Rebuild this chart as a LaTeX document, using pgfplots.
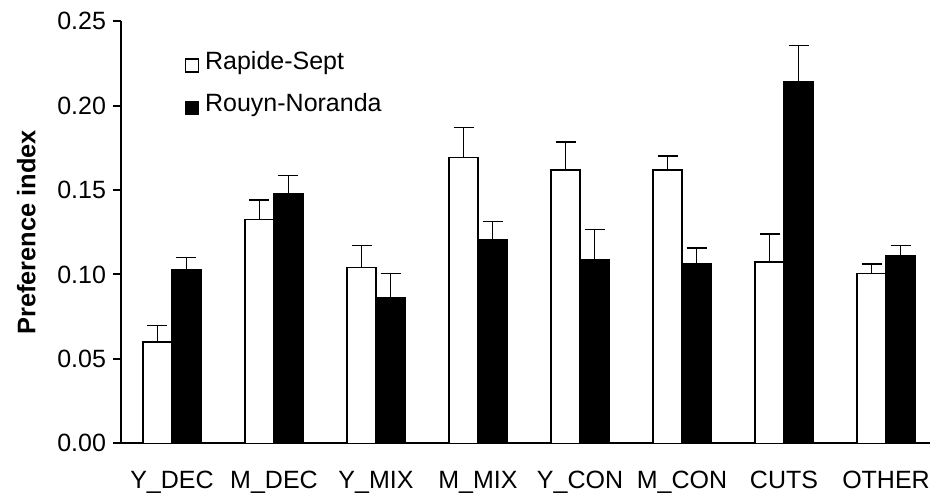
\documentclass[border=0pt]{standalone}
\usepackage{fontspec}
\setmainfont{Liberation Sans}
\usepackage{pgfplots}
\pgfplotsset{compat=1.18}
\begin{document}
\begin{tikzpicture}[font=\fontsize{12.5}{15}\selectfont]
\path[use as bounding box] (-60.5pt,-26.35pt) rectangle (404.5pt,221.65pt);
\clip (-60.5pt,-26.35pt) rectangle (404.5pt,221.65pt);
\begin{axis}[
  at={(0,0)}, anchor=south west,
  scale only axis, width=408pt, height=211pt,
  xmin=0, xmax=8, ymin=0, ymax=0.25,
  ybar=0pt, bar width=14.5pt,
  axis lines*=left,
  axis line style={line width=1pt, black},
  tick align=outside,
  major tick length=4pt, minor tick length=4pt,
  every tick/.style={black, line width=1pt},
  tick label style={font=\fontsize{12.5}{15}\selectfont},
  ytick={0,0.05,0.1,0.15,0.2,0.25},
  yticklabel style={/pgf/number format/.cd, fixed, fixed zerofill, precision=2, assume math mode=true},
  xtick={0.5,1.5,...,7.5},
  xticklabels={Y\_DEC, M\_DEC, Y\_MIX, M\_MIX, Y\_CON, M\_CON, CUTS, OTHER},
  xticklabel style={yshift=-6.5pt},
  xtick style={draw=none},
  minor xtick={0,1,...,8},
  ylabel={\textbf{Preference index}},
  ylabel style={at={(axis description cs:-0.116,0.5)}, anchor=center, font=\fontsize{12.7}{15}\selectfont},
  legend style={draw=none, fill=none, inner sep=0pt, at={(axis description cs:0.0776,0.935)}, anchor=north west, row sep=8.5pt, nodes={inner sep=1pt}, font=\fontsize{12.5}{15}\selectfont},
  legend cell align=left,
  legend image code/.code={\draw[#1] (0pt,-5.25pt) rectangle (6.5pt,1.25pt);},
  clip=false,
]
\addplot[fill=white, draw=black, line width=0.7pt,
  error bars/.cd, y dir=plus, y explicit,
  error bar style={line width=0.7pt, black},
  error mark options={rotate=90, mark size=5pt, line width=0.7pt, black}]
  table[x=x, y=y, y error=e] {
x y e
0.5 0.060 0.0097
1.5 0.1325 0.0116
2.5 0.1043 0.0128
3.5 0.1692 0.0178
4.5 0.1619 0.0166
5.5 0.1619 0.0083
6.5 0.1074 0.0166
7.5 0.1005 0.0057
};
\addlegendentry{\hspace{2pt}Rapide-Sept}
\addplot[fill=black, draw=black, line width=0.7pt,
  error bars/.cd, y dir=plus, y explicit,
  error bar style={line width=0.7pt, black},
  error mark options={rotate=90, mark size=5pt, line width=0.7pt, black}]
  table[x=x, y=y, y error=e] {
x y e
0.5 0.1031 0.0069
1.5 0.1481 0.0107
2.5 0.0865 0.0140
3.5 0.1209 0.0106
4.5 0.1090 0.0175
5.5 0.1064 0.0093
6.5 0.2145 0.0210
7.5 0.1111 0.0060
};
\addlegendentry{\hspace{2pt}Rouyn-Noranda}
\end{axis}
\end{tikzpicture}
\end{document}
